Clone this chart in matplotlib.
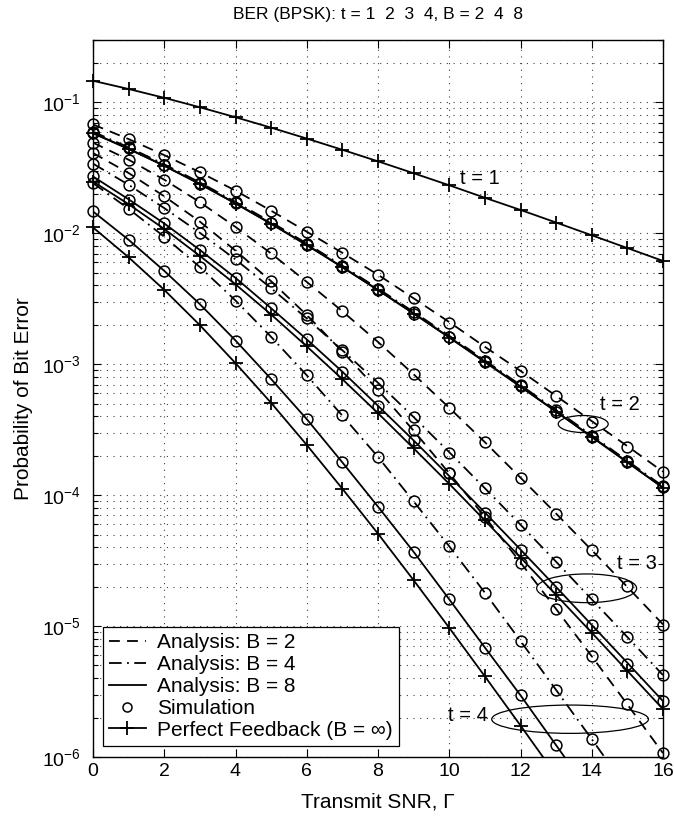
import matplotlib
matplotlib.use("Agg")
import matplotlib.pyplot as plt
import numpy as np
from matplotlib.patches import Ellipse
from matplotlib.lines import Line2D

plt.rcParams['font.family'] = ['Liberation Sans', 'DejaVu Sans']
plt.rcParams['mathtext.fontset'] = 'custom'
plt.rcParams['mathtext.rm'] = 'Liberation Sans'
plt.rcParams['mathtext.it'] = 'Liberation Sans:italic'

# ---------------- data ----------------
snr_db = list(range(17))

perfect_t1 = [0.1464, 0.1267, 0.1085, 0.0919, 0.0771, 0.0642, 0.0530, 0.0435, 0.0355,
              0.0288, 0.0233, 0.0187, 0.0151, 0.0121, 0.00967, 0.00772, 0.00616]
perfect_t2 = [0.0581, 0.0441, 0.0328, 0.0238, 0.0169, 0.0118, 0.00813, 0.00551, 0.00368,
              0.00244, 0.00160, 0.00104, 6.74e-4, 4.34e-4, 2.78e-4, 1.78e-4, 1.14e-4]
perfect_t3 = [0.0249, 0.0167, 0.0108, 0.00673, 0.00408, 0.00240, 0.00137, 7.69e-4, 4.23e-4,
              2.28e-4, 1.22e-4, 6.41e-5, 3.34e-5, 1.73e-5, 8.90e-6, 4.55e-6, 2.32e-6]
perfect_t4 = [0.0111, 0.00656, 0.00370, 0.00199, 0.00102, 5.07e-4, 2.42e-4, 1.12e-4, 5.08e-5,
              2.24e-5, 9.70e-6, 4.13e-6, 1.74e-6, 7.23e-7, 2.98e-7, 1.22e-7, 4.98e-8]

# analysis curves
ana_t2_b2 = [0.0679, 0.0525, 0.0396, 0.0293, 0.0212, 0.0149, 0.0103, 0.00710, 0.00483,
             0.00319, 0.00210, 0.00136, 8.90e-4, 5.73e-4, 3.68e-4, 2.37e-4, 1.51e-4]
ana_t2_b4 = [0.0598, 0.0454, 0.0337, 0.0245, 0.0174, 0.0122, 0.00837, 0.00567, 0.00379,
             0.00251, 0.00165, 0.00107, 6.94e-4, 4.47e-4, 2.87e-4, 1.83e-4, 1.17e-4]
ana_t2_b8 = [0.0584, 0.0443, 0.0329, 0.0239, 0.0170, 0.0119, 0.00817, 0.00553, 0.00370,
             0.00245, 0.00161, 0.00105, 6.77e-4, 4.36e-4, 2.80e-4, 1.79e-4, 1.14e-4]

ana_t3_b2 = [0.0493, 0.0365, 0.0257, 0.0173, 0.0112, 0.00702, 0.00426, 0.00254, 0.00148,
             8.38e-4, 4.65e-4, 2.54e-4, 1.36e-4, 7.23e-5, 3.80e-5, 1.99e-5, 1.03e-5]
ana_t3_b4 = [0.0341, 0.0235, 0.0156, 0.0101, 0.00632, 0.00381, 0.00224, 0.00128, 7.22e-4,
             3.95e-4, 2.13e-4, 1.13e-4, 5.95e-5, 3.10e-5, 1.60e-5, 8.24e-6, 4.22e-6]
ana_t3_b8 = [0.0272, 0.0182, 0.0119, 0.00747, 0.00457, 0.00268, 0.00155, 8.77e-4, 4.82e-4,
             2.62e-4, 1.40e-4, 7.37e-5, 3.84e-5, 1.99e-5, 1.02e-5, 5.24e-6, 2.67e-6]

ana_t4_b2 = [0.0411, 0.0289, 0.0192, 0.0123, 0.00738, 0.00431, 0.00238, 0.00125, 6.35e-4,
             3.11e-4, 1.47e-4, 6.82e-5, 3.06e-5, 1.35e-5, 5.88e-6, 2.52e-6, 1.07e-6]
ana_t4_b4 = [0.0242, 0.0154, 0.00943, 0.00553, 0.00307, 0.00162, 8.24e-4, 4.05e-4, 1.96e-4,
             8.96e-5, 4.07e-5, 1.80e-5, 7.70e-6, 3.25e-6, 1.37e-6, 5.68e-7, 2.34e-7]
ana_t4_b8 = [0.0147, 0.00893, 0.00517, 0.00288, 0.00152, 7.71e-4, 3.81e-4, 1.78e-4, 8.17e-5,
             3.69e-5, 1.60e-5, 6.86e-6, 2.96e-6, 1.23e-6, 5.10e-7, 2.10e-7, 8.56e-8]

# simulation points
sim_t2_b2 = [0.0684, 0.0527, 0.0398, 0.0292, 0.0212, 0.0149, 0.0103, 0.00713, 0.00482,
             0.00320, 0.00208, 0.00136, 8.9e-4, 5.7e-4, 3.6e-4, 2.35e-4, 1.51e-4]
sim_t2_b4 = [0.0590, 0.0453, 0.0334, 0.0244, 0.0174, 0.0121, 0.00830, 0.00562, 0.00378,
             0.00250, 0.00162, 0.00106, 6.9e-4, 4.45e-4, 2.85e-4, 1.82e-4, 1.17e-4]
sim_t2_b8 = [0.0580, 0.0445, 0.0331, 0.0240, 0.0170, 0.0119, 0.00815, 0.00552, 0.00370,
             0.00244, 0.00161, 0.00105, 6.8e-4, 4.35e-4, 2.80e-4, 1.79e-4, 1.15e-4]
sim_t3_b2 = [0.0494, 0.0365, 0.0257, 0.0173, 0.0112, 0.00702, 0.00426, 0.00254, 0.00149,
             8.43e-4, 4.66e-4, 2.54e-4, 1.36e-4, 7.2e-5, 3.8e-5, 2.02e-5, 1.02e-5]
sim_t3_b4 = [0.0340, 0.0235, 0.0156, 0.0101, 0.00632, 0.00381, 0.00224, 0.00128, 7.23e-4,
             3.97e-4, 2.11e-4, 1.13e-4, 5.95e-5, 3.1e-5, 1.6e-5, 8.2e-6, 4.22e-6]
sim_t3_b8 = [0.0272, 0.0180, 0.0119, 0.00747, 0.00457, 0.00268, 0.00155, 8.77e-4, 4.80e-4,
             2.62e-4, 1.48e-4, 7.37e-5, 3.84e-5, 2.0e-5, 1.02e-5, 5.17e-6, 2.68e-6]
sim_t4_b2 = [0.0410, 0.0288, 0.0192, 0.0123, 0.00738, 0.00431, 0.00238, 0.00125, 6.36e-4,
             3.15e-4, 1.47e-4, 6.82e-5, 3.06e-5, 1.36e-5, 5.9e-6, 2.53e-6, 1.07e-6]
sim_t4_b4 = [0.0242, 0.0154, 0.00943, 0.00553, 0.00306, 0.00162, 8.28e-4, 4.09e-4, 1.95e-4,
             9.06e-5, 4.09e-5, 1.80e-5, 7.7e-6, 3.27e-6, 1.38e-6, None, None]
sim_t4_b8 = [0.0147, 0.0089, 0.00517, 0.00289, 0.00151, 7.72e-4, 3.80e-4, 1.78e-4, 8.15e-5,
             3.69e-5, 1.60e-5, 6.85e-6, 2.96e-6, 1.23e-6, None, None, None]

x_ticks = [0, 2, 4, 6, 8, 10, 12, 14, 16]
title_text = "BER (BPSK): t = 1  2  3  4, B = 2  4  8"
legend_labels = ["Analysis: B = 2", "Analysis: B = 4", "Analysis: B = 8",
                 "Simulation", "Perfect Feedback (B = \u221e)"]

# ---------------- drawing ----------------
W, H = 674, 819
fig = plt.figure(figsize=(W / 100, H / 100), dpi=100)
ax = fig.add_axes([93 / W, 1 - 757 / H, 570 / W, 717 / H])
ax.set_yscale('log')
ax.set_xlim(0, 16)
ax.set_ylim(1e-6, 0.3)

YMIN, YMAX = 1e-6, 0.3
LW = 1.3
dash = (0, (6, 4))
dashdot = (0, (7, 3, 1, 3))

x = np.array(snr_db, dtype=float)


def arr(v):
    return np.array([np.nan if a is None else a for a in v], dtype=float)


def markers(vals, marker, ms, mew):
    y = arr(vals)
    y = np.where((y >= YMIN * 0.97) & (y <= YMAX), y, np.nan)
    ax.plot(x, y, linestyle='none', marker=marker, ms=ms, mew=mew,
            mfc='none', mec='black', clip_on=False, zorder=4)


for v in [ana_t2_b2, ana_t3_b2, ana_t4_b2]:
    ax.plot(x, arr(v), color='black', lw=LW, linestyle=dash, zorder=3)
for v in [ana_t2_b4, ana_t3_b4, ana_t4_b4]:
    ax.plot(x, arr(v), color='black', lw=LW, linestyle=dashdot, zorder=3)
for v in [ana_t2_b8, ana_t3_b8, ana_t4_b8]:
    ax.plot(x, arr(v), color='black', lw=LW, linestyle='-', zorder=3)
for v in [perfect_t1, perfect_t2, perfect_t3, perfect_t4]:
    ax.plot(x, arr(v), color='black', lw=LW, linestyle='-', zorder=3)
    markers(v, '+', 9.5, 1.3)
for v in [sim_t2_b2, sim_t2_b4, sim_t2_b8, sim_t3_b2, sim_t3_b4, sim_t3_b8,
          sim_t4_b2, sim_t4_b4, sim_t4_b8]:
    markers(v, 'o', 7.8, 1.1)

# grid and ticks
ax.set_xticks(x_ticks)
ax.set_xticklabels([str(t) for t in x_ticks])
ax.grid(True, which='major', axis='x', linestyle=(0, (1, 5)), color='0.25', lw=0.8)
ax.grid(True, which='both', axis='y', linestyle=(0, (1, 5)), color='0.25', lw=0.8)
ax.tick_params(which='both', direction='in', top=True, right=True, labelsize=14,
               color='black')
ax.tick_params(which='major', length=6, width=0.8)
ax.tick_params(which='minor', length=3.5, width=0.8)
ax.tick_params(axis='x', pad=4)
ax.tick_params(axis='y', pad=9)
for s in ax.spines.values():
    s.set_linewidth(1.0)
ax.set_axisbelow(True)

ax.set_title(title_text, fontsize=12.5, pad=15)
ax.set_xlabel("Transmit SNR, \u0393", fontsize=15, labelpad=9)
ax.set_ylabel("Probability of Bit Error", fontsize=15, labelpad=6)

# annotations
ax.text(0.644, 0.8075, "t = 1", transform=ax.transAxes, fontsize=14.5, va='center', ha='left')
ax.text(0.889, 0.4923, "t = 2", transform=ax.transAxes, fontsize=14.5, va='center', ha='left')
ax.text(0.919, 0.270, "t = 3", transform=ax.transAxes, fontsize=14.5, va='center', ha='left')
ax.text(0.623, 0.0572, "t = 4", transform=ax.transAxes, fontsize=14.5, va='center', ha='left')
for cx, cy, w, h in [(0.860, 0.4644, 0.0877, 0.0237),
                     (0.866, 0.2353, 0.1754, 0.040),
                     (0.837, 0.0527, 0.275, 0.0395)]:
    ax.add_patch(Ellipse((cx, cy), w, h, transform=ax.transAxes, fill=False,
                         edgecolor='black', lw=0.9, zorder=5))

# legend
handles = [
    Line2D([], [], color='black', lw=LW, linestyle=dash),
    Line2D([], [], color='black', lw=LW, linestyle=dashdot),
    Line2D([], [], color='black', lw=LW, linestyle='-'),
    Line2D([], [], color='black', linestyle='none', marker='o', ms=6.5, mfc='none', mew=1.1),
    Line2D([], [], color='black', lw=LW, linestyle='-', marker='+', ms=9.5, mew=1.3),
]
leg = ax.legend(handles, legend_labels, loc='lower left', bbox_to_anchor=(0.0175, 0.0153),
                borderaxespad=0, fontsize=15, frameon=True, fancybox=False,
                edgecolor='black', framealpha=1, handlelength=1.75, handletextpad=0.55,
                labelspacing=0.14, borderpad=0.3)
leg.get_frame().set_linewidth(0.9)
leg.set_zorder(6)

fig.savefig("out.png", dpi=100)
